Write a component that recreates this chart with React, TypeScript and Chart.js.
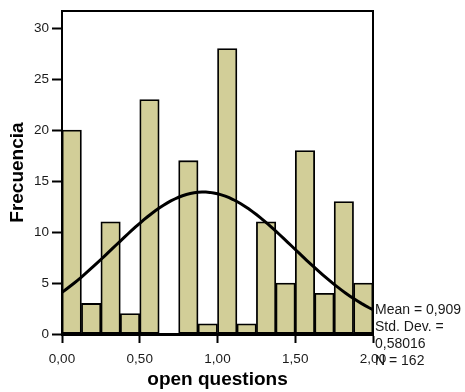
import React, { useEffect, useRef } from 'react';
import { Chart, registerables } from 'chart.js';

Chart.register(...registerables);
Chart.defaults.font.family = "'Liberation Sans', Arial, Helvetica, sans-serif";

// Histogram bins (lower edges) and counts
const BIN_WIDTH = 0.125;
const binStarts = [0, 0.125, 0.25, 0.375, 0.5, 0.625, 0.75, 0.875, 1, 1.125, 1.25, 1.375, 1.5, 1.625, 1.75, 1.875];
const frequencies = [20, 3, 11, 2, 23, 0, 17, 1, 28, 1, 11, 5, 18, 4, 13, 5];

// Axis ticks
const xTicks = [0, 0.5, 1, 1.5, 2];
const yTicks = [0, 5, 10, 15, 20, 25, 30];

// Summary statistics of the distribution
const MEAN = 0.909;
const STD_DEV = 0.58016;
const N = 162;
const statsLines = ['Mean = 0,909', 'Std. Dev. =', '0,58016', 'N = 162'];

// Sample positions for the fitted normal curve
const curveXs = Array.from({ length: 81 }, (_, i) => i * 0.025);

const BAR_FILL = '#d2ce98';

function normalCount(x: number): number {
  const z = (x - MEAN) / STD_DEV;
  return (N * BIN_WIDTH) / (STD_DEV * Math.sqrt(2 * Math.PI)) * Math.exp(-0.5 * z * z);
}

const fmt = (v: number) => v.toFixed(2).replace('.', ',');

const framePlugin = {
  id: 'frameAndStats',
  afterDraw(chart: any) {
    const { ctx, chartArea } = chart;
    const { left, right, top, bottom } = chartArea;
    ctx.save();
    ctx.strokeStyle = '#000';
    ctx.lineWidth = 2;
    ctx.beginPath();
    ctx.moveTo(left, top);
    ctx.lineTo(right, top);
    ctx.lineTo(right, bottom);
    ctx.stroke();

    ctx.fillStyle = '#1a1a1a';
    ctx.font = "14px 'Liberation Sans', Arial, sans-serif";
    ctx.textAlign = 'left';
    ctx.textBaseline = 'middle';
    statsLines.forEach((line, i) => {
      ctx.fillText(line, right + 2, bottom - 24 + i * 17);
    });
    ctx.restore();
  },
};

export default function App() {
  const canvasRef = useRef<HTMLCanvasElement | null>(null);

  useEffect(() => {
    const canvas = canvasRef.current;
    if (!canvas) return;

    const barData = binStarts.map((x0, i) => ({ x: x0 + BIN_WIDTH / 2, y: frequencies[i] }));
    const curveData = curveXs.map((x) => ({ x, y: normalCount(x) }));

    const chart = new Chart(canvas, {
      type: 'bar',
      data: {
        datasets: [
          {
            type: 'line',
            data: curveData,
            borderColor: '#000',
            borderWidth: 3,
            pointRadius: 0,
            tension: 0,
            fill: false,
            order: 0,
          } as any,
          {
            type: 'bar',
            data: barData,
            backgroundColor: BAR_FILL,
            borderColor: '#000',
            borderWidth: 1.8,
            borderSkipped: false,
            barPercentage: 1,
            categoryPercentage: 1,
            order: 1,
          } as any,
        ],
      },
      options: {
        animation: false,
        responsive: false,
        events: [],
        layout: { padding: { top: 11, right: 92, left: 0, bottom: 0 } },
        plugins: {
          legend: { display: false },
          tooltip: { enabled: false },
        },
        scales: {
          x: {
            type: 'linear',
            min: 0,
            max: 2,
            offset: false,
            afterBuildTicks: (s: any) => {
              s.ticks = xTicks.map((v) => ({ value: v }));
            },
            afterFit: (s: any) => {
              s.height = 58;
            },
            ticks: {
              callback: (v: any) => fmt(Number(v)),
              font: { size: 13.5 },
              color: '#1a1a1a',
              padding: 8,
              maxRotation: 0,
              autoSkip: false,
            },
            grid: {
              offset: false,
              drawOnChartArea: false,
              drawTicks: true,
              tickLength: 9,
              tickWidth: 2,
              tickColor: '#000',
              color: '#000',
            },
            border: { display: true, color: '#000', width: 3 },
            title: {
              display: true,
              text: 'open questions',
              font: { size: 19, weight: 'bold' },
              color: '#000',
              padding: { top: 0, bottom: 1 },
            },
          },
          y: {
            type: 'linear',
            min: 0,
            max: 31.67,
            afterBuildTicks: (s: any) => {
              s.ticks = yTicks.map((v) => ({ value: v }));
            },
            afterFit: (s: any) => {
              s.width = 62;
            },
            ticks: {
              font: { size: 13.5 },
              color: '#1a1a1a',
              padding: 3,
            },
            grid: {
              drawOnChartArea: false,
              drawTicks: true,
              tickLength: 10,
              tickWidth: 2,
              tickColor: '#000',
              color: '#000',
            },
            border: { display: true, color: '#000', width: 2 },
            title: {
              display: true,
              text: 'Frecuencia',
              font: { size: 19, weight: 'bold' },
              color: '#000',
              padding: { top: 6, bottom: 0 },
            },
          },
        },
      } as any,
      plugins: [framePlugin],
    });

    return () => chart.destroy();
  }, []);

  return (
    <div style={{ position: 'fixed', left: 0, top: 0, width: 465, height: 392, background: '#fff' }}>
      <canvas ref={canvasRef} width={465} height={392} style={{ width: 465, height: 392, display: 'block' }} />
    </div>
  );
}
